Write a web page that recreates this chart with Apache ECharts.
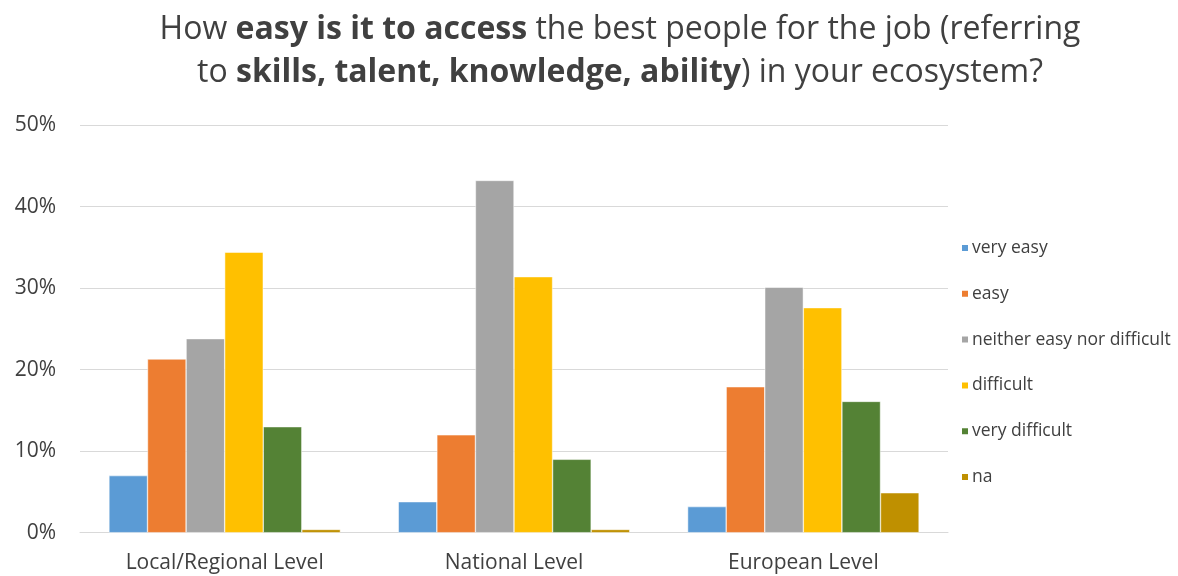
<!DOCTYPE html>
<html>
<head>
<meta charset="utf-8">
<script src="https://cdn.jsdelivr.net/npm/echarts@6/dist/echarts.min.js"></script>
<style>
  html, body { margin: 0; padding: 0; background: #fff; }
  #chart { width: 1178px; height: 576px; }
</style>
</head>
<body>
<div id="chart"></div>
<script>
// Survey levels on the x axis
const categories = ['Local/Regional Level', 'National Level', 'European Level'];

// Answer shares per level (fractions of respondents)
const veryEasy      = [0.070, 0.038, 0.032];
const easy          = [0.213, 0.120, 0.179];
const neither       = [0.238, 0.432, 0.301];
const difficult     = [0.344, 0.314, 0.276];
const veryDifficult = [0.130, 0.090, 0.161];
const na            = [0.004, 0.004, 0.049];

const seriesNames = ['very easy', 'easy', 'neither easy nor difficult', 'difficult', 'very difficult', 'na'];
const seriesData = [veryEasy, easy, neither, difficult, veryDifficult, na];
const seriesColors = ['#5B9BD5', '#ED7D31', '#A5A5A5', '#FFC000', '#548235', '#BF9000'];

const yTicks = [0, 0.1, 0.2, 0.3, 0.4, 0.5];

const chart = echarts.init(document.getElementById('chart'));

const fontFamily = '"Open Sans", "Noto Sans", sans-serif';
const titleSize = 32;

chart.setOption({
  animation: false,
  backgroundColor: '#ffffff',
  title: {
    text: '{n|How }{b|easy is it to access}{n| the best people for the job (referring}\n{n|to }{b|skills, talent, knowledge, ability}{n|) in your ecosystem?}',
    left: 615,
    top: 3,
    textAlign: 'center',
    textStyle: {
      fontFamily: fontFamily,
      fontSize: titleSize,
      fontWeight: 'normal',
      color: '#404040',
      lineHeight: 43,
      rich: {
        n: { fontFamily: fontFamily, fontSize: titleSize, color: '#404040', fontWeight: 'normal', lineHeight: 43 },
        b: { fontFamily: fontFamily, fontSize: titleSize, color: '#404040', fontWeight: 'bold', lineHeight: 43 }
      }
    }
  },
  legend: {
    orient: 'vertical',
    left: 955,
    top: 233,
    itemWidth: 8,
    itemHeight: 8,
    itemGap: 25.8,
    icon: 'rect',
    textStyle: { fontFamily: fontFamily, fontSize: 17.5, color: '#404040', lineHeight: 20, padding: [0, 0, 0, -2] },
    data: seriesNames
  },
  grid: { left: 80, right: 230, top: 125, bottom: 43.3, containLabel: false },
  xAxis: {
    type: 'category',
    data: categories,
    axisTick: { show: false },
    axisLine: { lineStyle: { color: '#D9D9D9', width: 1 } },
    axisLabel: { fontFamily: fontFamily, fontSize: 21, color: '#404040', margin: 20 }
  },
  yAxis: {
    type: 'value',
    min: yTicks[0],
    max: yTicks[yTicks.length - 1],
    interval: 0.1,
    axisLine: { show: false },
    axisTick: { show: false },
    splitLine: { lineStyle: { color: '#D9D9D9', width: 1 } },
    axisLabel: {
      fontFamily: fontFamily,
      fontSize: 21,
      color: '#404040',
      margin: 24,
      formatter: v => Math.round(v * 100) + '%'
    }
  },
  series: seriesNames.map((name, i) => ({
    name: name,
    type: 'bar',
    data: seriesData[i],
    barGap: '0%',
    barCategoryGap: '20%',
    itemStyle: { color: seriesColors[i], borderColor: '#ffffff', borderWidth: 0.5 }
  }))
});
</script>
</body>
</html>
